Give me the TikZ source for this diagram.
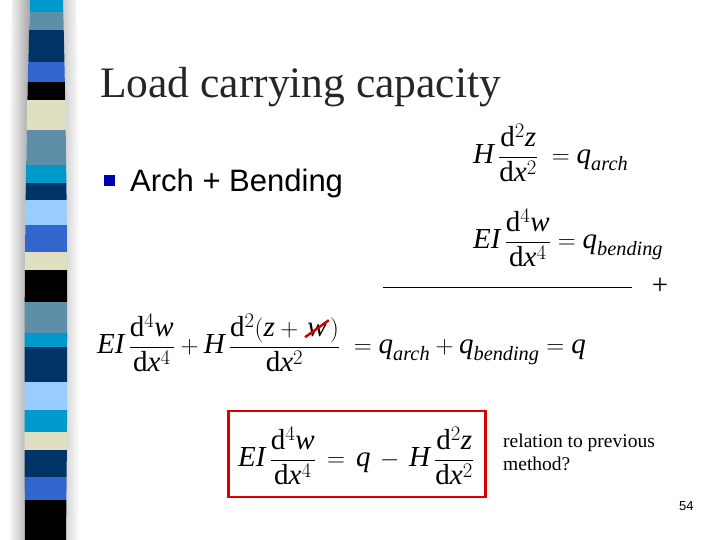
\documentclass[tikz,border=0pt]{standalone}
\usepackage{amsmath}
\usepackage{fontspec}
\setmainfont{Liberation Serif}
\newfontfamily\arial{Liberation Sans}
\newcommand{\vi}[1]{\textit{#1}}
\newcommand{\dd}{\mathrm{d}}
\newcommand{\strk}[1]{\tikz[baseline=(sw.base)]{\node[inner sep=0pt](sw){#1}; \draw[red!85!black,line width=2.5pt] ([xshift=-2pt]sw.south west)--([xshift=2pt,yshift=3pt]sw.north east);}}
\begin{document}
\begin{tikzpicture}[x=1pt,y=-1pt,
  eq/.style={inner sep=0pt,anchor=west,font=\fontsize{29}{33}\selectfont},
  lbl/.style={inner sep=0pt,anchor=base west}]
\useasboundingbox (0,0) rectangle (720,540);
\fill[white] (0,0) rectangle (720,540);
% shadow
\shade[left color=white,right color=black!35] (12,0) .. controls (8,200) and (8,360) .. (10,540) -- (28,540) .. controls (24,360) and (24,200) .. (30,0) -- cycle;
\shade[left color=black!20,right color=white] (62,0) .. controls (66,200) and (66,360) .. (64,540) -- (78,540) .. controls (80,360) and (80,200) .. (76,0) -- cycle;
\begin{scope}
\clip (30,0) .. controls (24,200) and (24,360) .. (25,540) -- (66,540) .. controls (68,360) and (68,200) .. (63,0) -- cycle;
\foreach \a/\b/\c in {0/12/0099CC,12/30/5F8FA8,30/62/003366,62/82/3366CC,82/100/000000,100/130/E0E0C0,130/165/5F8FA8,165/183/0099CC,183/200/003366,200/225/99CCFF,225/252/3366CC,252/270/E0E0C0,270/302/000000,302/333/5F8FA8,333/347/0099CC,347/382/003366,382/410/99CCFF,410/432/0099CC,432/450/E0E0C0,450/477/003366,477/500/3366CC,500/540/000000}{
  \definecolor{sc}{HTML}{\c}
  \fill[sc] (0,\a) rectangle (80,\b);}
\end{scope}
\node[lbl,font=\fontsize{43.5}{48}\selectfont,text=black!85] (title) at (100,98) {Load carrying capacity};
\fill[blue!70!black] (104,175) rectangle (115,186);
\node[lbl,font=\arial\fontsize{31}{34}\selectfont] (arch) at (130,192) {Arch + Bending};
\node[eq] (e1) at (473,153) {$\vi{H}\,\dfrac{\dd^2\vi{z}}{\dd\vi{x}^2}\;=\vi{q}_{\vi{arch}}$};
\node[eq] (e2) at (473,238) {$\vi{EI}\,\dfrac{\dd^4\vi{w}}{\dd\vi{x}^4}=\vi{q}_{\vi{bending}}$};
\coordinate (l1) at (383,287); \coordinate (l2) at (632,287);
\draw[line width=0.6pt] (l1) -- (l2);
\node[inner sep=0pt,font=\fontsize{29}{33}\selectfont] (plus) at (660,286) {+};
\node[eq] (e3) at (97,343) {$\vi{EI}\,\dfrac{\dd^4\vi{w}}{\dd\vi{x}^4}+\vi{H}\,\dfrac{\dd^2(\vi{z}+\strk{\vi{w}})}{\dd\vi{x}^2}\;=\vi{q}_{\vi{arch}}+\vi{q}_{\vi{bending}}=\vi{q}$};
\node[draw=red!85!black,line width=2.5pt,minimum width=257pt,minimum height=86pt,inner sep=0pt] (box) at (357,454) {};
\node[eq] (e4) at (238,456) {$\vi{EI}\,\dfrac{\dd^4\vi{w}}{\dd\vi{x}^4}\,=\,\vi{q}\,-\,\vi{H}\,\dfrac{\dd^2\vi{z}}{\dd\vi{x}^2}$};
\node[lbl,font=\fontsize{19.5}{22}\selectfont] (rel) at (503,447) {relation to previous};
\node[lbl,font=\fontsize{19.5}{22}\selectfont] (rel2) at (503,470) {method?};
\node[lbl,font=\arial\fontsize{13}{15}\selectfont] (pg) at (679,510) {54};
\end{tikzpicture}
\end{document}
